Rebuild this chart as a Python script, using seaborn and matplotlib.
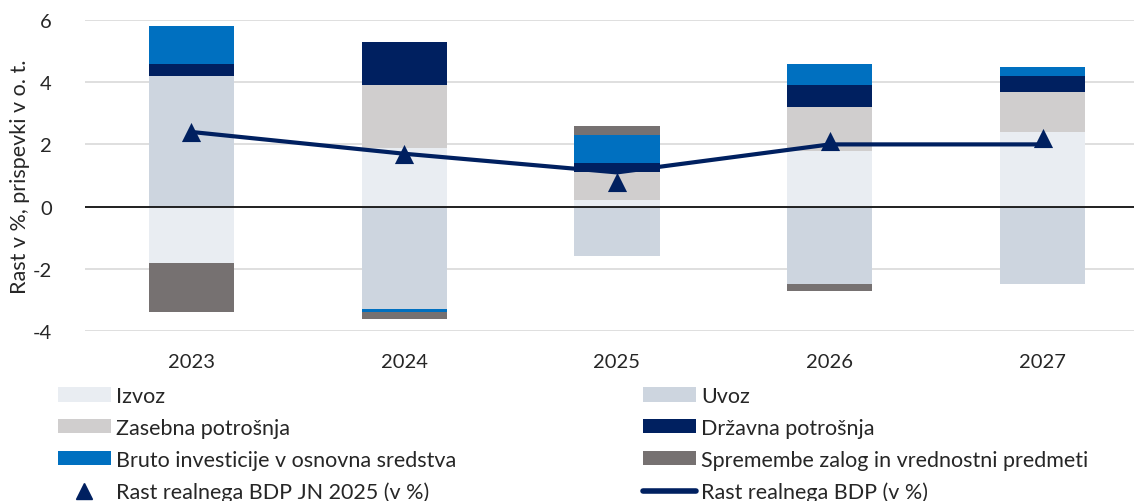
import numpy as np
import seaborn as sns
import matplotlib.pyplot as plt
from matplotlib.patches import Patch
from matplotlib.lines import Line2D

# values (contributions to GDP growth, p.p.)
years = ["2023", "2024", "2025", "2026", "2027"]
izvoz = [-1.8, 1.9, 0.2, 1.8, 2.4]
uvoz = [4.2, -3.3, -1.6, -2.5, -2.5]
zasebna = [0.0, 2.0, 0.9, 1.4, 1.3]
drzavna = [0.4, 1.4, 0.3, 0.7, 0.5]
investicije = [1.2, -0.1, 0.9, 0.7, 0.3]
zaloge = [-1.6, -0.2, 0.3, -0.2, 0.0]
bdp = [2.4, 1.7, 1.1, 2.0, 2.0]
bdp_jn2025 = [2.4, 1.7, 0.8, 2.1, 2.2]

labels = ["Izvoz", "Uvoz", "Zasebna potrošnja", "Državna potrošnja",
          "Bruto investicije v osnovna sredstva", "Spremembe zalog in vrednostni predmeti"]
colors = ["#E9EDF2", "#CDD5DF", "#D0CECE", "#002060", "#0070C0", "#767171"]
navy = "#002060"

sns.set_style("white")
plt.rcParams["font.family"] = ["Lato", "DejaVu Sans"]
plt.rcParams["font.size"] = 14
plt.rcParams["axes.unicode_minus"] = False

fig = plt.figure(figsize=(11.34, 5.02), dpi=100)
ax = fig.add_axes([85 / 1134, 1 - 332 / 502, 1 - 85 / 1134, (332 - 21) / 502])

series = [izvoz, uvoz, zasebna, drzavna, investicije, zaloge]
pos_cum = np.zeros(len(years))
neg_cum = np.zeros(len(years))
for vals, c in zip(series, colors):
    v = np.array(vals)
    bottom = np.where(v >= 0, pos_cum, neg_cum)
    sns.barplot(x=years, y=v, bottom=bottom, color=c, saturation=1, width=0.4,
                linewidth=0, errorbar=None, ax=ax, zorder=2)
    pos_cum += np.clip(v, 0, None)
    neg_cum += np.clip(v, None, 0)

xpos = np.arange(len(years))
sns.lineplot(x=xpos, y=bdp, color=navy, linewidth=3, ax=ax, zorder=3)
sns.scatterplot(x=xpos, y=bdp_jn2025, marker="^", s=190, color=navy,
                edgecolor=navy, linewidth=0, ax=ax, zorder=4)

ax.set_xlim(-0.5, 4.43)
ax.set_ylim(-4, 6)
ax.set_yticks([-4, -2, 0, 2, 4, 6])
ax.grid(axis="y", color="#D9D9D9", linewidth=1.2, zorder=0)
ax.set_axisbelow(True)
ax.axhline(0, color="black", linewidth=1.2, zorder=2.5)
for s in ax.spines.values():
    s.set_visible(False)
ax.tick_params(axis="y", length=0, pad=24, labelsize=14.5)
ax.tick_params(axis="x", length=0, pad=16, labelsize=14.5)
ax.set_xlabel("")
ax.set_ylabel("Rast v %, prispevki v o. t.", fontsize=15.5)
ax.yaxis.set_label_coords(-0.052, 0.5)

h = [Patch(facecolor=c, edgecolor="none") for c in colors]
tri = Line2D([], [], marker="^", color=navy, linestyle="none", markersize=12)
line = Line2D([], [], color=navy, linewidth=4, solid_capstyle="round")

leg_kw = dict(loc="upper left", frameon=False, fontsize=15.5, borderpad=0,
              borderaxespad=0, handlelength=2.45, handleheight=0.65,
              handletextpad=0.25, labelspacing=0.55)
leg1 = fig.legend([h[0], h[2], h[4], tri], [labels[0], labels[2], labels[4], "Rast realnega BDP JN 2025 (v %)"],
                  bbox_to_anchor=(58 / 1134, 1 - 387 / 502), **leg_kw)
leg2 = fig.legend([h[1], h[3], h[5], line], [labels[1], labels[3], labels[5], "Rast realnega BDP (v %)"],
                  bbox_to_anchor=(643 / 1134, 1 - 387 / 502), **leg_kw)

fig.savefig("out.png", dpi=100)
